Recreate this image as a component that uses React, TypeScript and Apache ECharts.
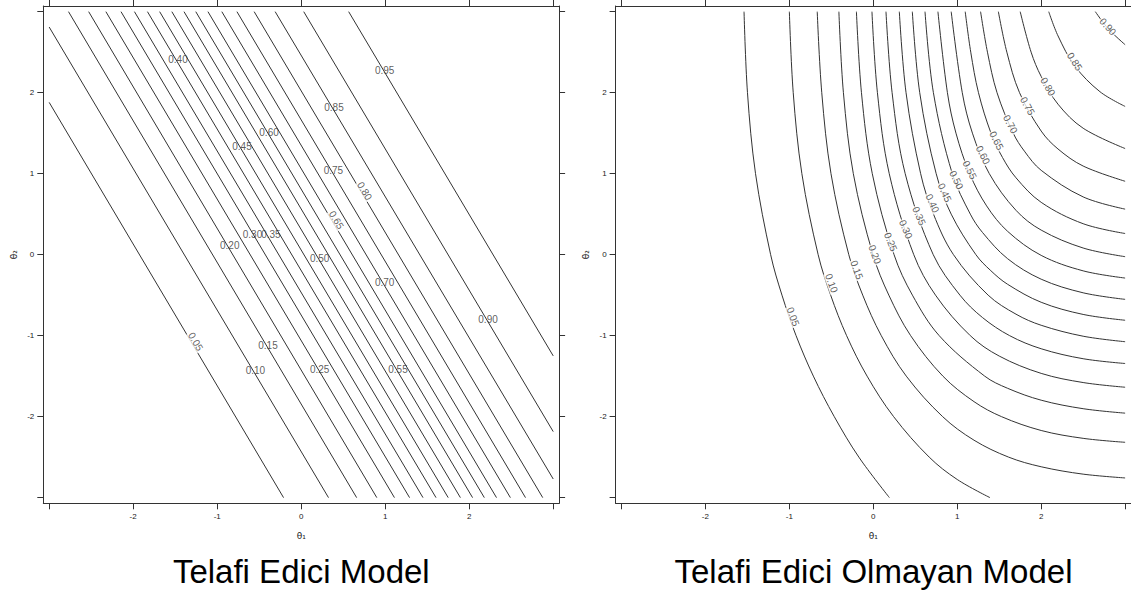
import React, { useEffect, useRef } from "react";
import * as echarts from "echarts";

// ---------- data ----------
const levels = ["0.05", "0.10", "0.15", "0.20", "0.25", "0.30", "0.35", "0.40", "0.45", "0.50", "0.55", "0.60", "0.65", "0.70", "0.75", "0.80", "0.85", "0.90", "0.95"];

// Compensatory model: straight contour lines [theta1, theta2]
const leftLines: number[][][] = [
  [[-3, 1.88], [-0.21, -3]],
  [[-3, 2.81], [0.325, -3]],
  [[-2.77, 3], [0.66, -3]],
  [[-2.53, 3], [0.9, -3]],
  [[-2.325, 3], [1.11, -3]],
  [[-2.145, 3], [1.29, -3]],
  [[-1.985, 3], [1.45, -3]],
  [[-1.83, 3], [1.605, -3]],
  [[-1.685, 3], [1.75, -3]],
  [[-1.54, 3], [1.895, -3]],
  [[-1.395, 3], [2.04, -3]],
  [[-1.255, 3], [2.18, -3]],
  [[-1.11, 3], [2.325, -3]],
  [[-0.945, 3], [2.49, -3]],
  [[-0.765, 3], [2.67, -3]],
  [[-0.56, 3], [2.875, -3]],
  [[-0.31, 3], [3, -2.77]],
  [[0.03, 3], [3, -2.185]],
  [[0.565, 3], [3, -1.25]],
];

const leftLabelAt: number[][] = [
  [-1.256, -1.074], [-0.545, -1.432], [-0.395, -1.127], [-0.851, 0.107], [0.22, -1.423],
  [-0.58, 0.252], [-0.36, 0.252], [-1.467, 2.404], [-0.705, 1.33], [0.22, -0.044],
  [1.152, -1.415], [-0.383, 1.511], [0.419, 0.428], [0.994, -0.341], [0.383, 1.042],
  [0.756, 0.786], [0.39, 1.82], [2.224, -0.798], [0.994, 2.277],
];
const leftLabelAngle = [-59, 0, 0, 0, 0, 0, 0, 0, 0, 0, 0, 0, -59, 0, 0, -59, 0, 0, 0];

// Non-compensatory model: curved contour lines [theta1, theta2]
const rightLines: number[][][] = [
  [[-1.54, 3], [-1.499, 2], [-1.403, 1], [-1.223, 0], [-1.088, -0.5], [-0.92, -1], [-0.714, -1.5], [-0.465, -2], [-0.172, -2.5], [0.192, -3]],
  [[-1.0, 3], [-0.954, 2], [-0.851, 1], [-0.657, 0], [-0.508, -0.5], [-0.318, -1], [-0.074, -1.5], [0.242, -2], [0.666, -2.5], [1.0, -2.776], [1.39, -3]],
  [[-0.668, 3], [-0.614, 2], [-0.504, 1], [-0.292, 0], [-0.126, -0.5], [0.095, -1], [0.393, -1.5], [0.826, -2], [1.2, -2.291], [1.612, -2.5], [2, -2.619], [2.5, -2.71], [3, -2.757]],
  [[-0.41, 3], [-0.356, 2], [-0.238, 1], [-0.004, 0], [0.185, -0.5], [0.445, -1], [0.829, -1.5], [1.2, -1.815], [1.527, -2], [2, -2.171], [2.5, -2.268], [3, -2.317]],
  [[-0.201, 3], [-0.141, 2], [-0.012, 1], [0.247, 0], [0.466, -0.5], [0.785, -1], [1.327, -1.5], [1.6, -1.65], [2, -1.797], [2.5, -1.902], [3, -1.957]],
  [[-0.016, 3], [0.049, 2], [0.19, 1], [0.482, 0], [0.741, -0.5], [1.155, -1], [1.5, -1.252], [2, -1.466], [2.5, -1.579], [3, -1.637]],
  [[0.151, 3], [0.224, 2], [0.38, 1], [0.714, 0], [1.032, -0.5], [1.3, -0.776], [1.624, -1], [2, -1.162], [2.5, -1.285], [3, -1.344]],
  [[0.31, 3], [0.39, 2], [0.564, 1], [0.717, 0.5], [0.955, 0], [1.368, -0.5], [1.7, -0.735], [2, -0.872], [2.5, -1.007], [3, -1.075]],
  [[0.465, 3], [0.553, 2], [0.749, 1], [0.928, 0.5], [1.222, 0], [1.4, -0.198], [1.6, -0.366], [2, -0.588], [2.5, -0.738], [3, -0.81]],
  [[0.616, 3], [0.716, 2], [0.941, 1], [1.156, 0.5], [1.3, 0.275], [1.6, -0.05], [2, -0.303], [2.5, -0.471], [3, -0.552]],
  [[0.77, 3], [0.883, 2], [0.985, 1.5], [1.148, 1], [1.35, 0.602], [1.6, 0.288], [2, -0.009], [2.5, -0.2], [3, -0.289]],
  [[0.928, 3], [1.06, 2], [1.181, 1.5], [1.382, 1], [1.7, 0.547], [2, 0.303], [2.5, 0.082], [3, -0.025]],
  [[1.095, 3], [1.161, 2.5], [1.253, 2], [1.402, 1.5], [1.539, 1.2], [1.7, 0.949], [2, 0.646], [2.5, 0.382], [3, 0.261]],
  [[1.278, 3], [1.36, 2.5], [1.474, 2], [1.667, 1.5], [1.8, 1.278], [2, 1.041], [2.5, 0.713], [3, 0.562]],
  [[1.49, 3], [1.591, 2.5], [1.742, 2], [2, 1.526], [2.2, 1.305], [2.5, 1.094], [3, 0.906]],
  [[1.75, 3], [1.88, 2.5], [2.0, 2.2], [2.2, 1.858], [2.5, 1.561], [3, 1.31]],
  [[2.09, 3], [2.201, 2.7], [2.4, 2.33], [2.7, 2.012], [3, 1.83]],
  [[2.645, 3], [2.8, 2.788], [3, 2.592]],
];

const rightLabelAt: number[][] = [
  [-0.955, -0.765], [-0.498, -0.353], [-0.196, -0.189], [0.018, 0.002], [0.208, 0.157],
  [0.387, 0.314], [0.545, 0.478], [0.705, 0.635], [0.851, 0.765], [0.99, 0.922],
  [1.149, 1.046], [1.307, 1.231], [1.467, 1.407], [1.633, 1.61], [1.836, 1.836],
  [2.081, 2.074], [2.399, 2.383], [2.795, 2.815],
];
const rightLabelAngle = [-70, -70, -70, -70, -68, -67, -66, -65, -65, -64, -64, -63, -63, -62, -61, -60, -58, -48];

const tickValues = [-3, -2, -1, 0, 1, 2, 3];
const tickLabelValues = [-2, -1, 0, 1, 2];
const panelTitles = ["Telafi Edici Model", "Telafi Edici Olmayan Model"];
const xName = "θ₁";
const yName = "θ₂";

// ---------- layout ----------
const AX_MIN = -3.07;
const AX_MAX = 3.07;
const INK = "#333";
const FONT = "Arial, 'Liberation Sans', sans-serif";
const grids = [
  { left: 43.3, top: 6, width: 515.8, height: 497.3 },
  { left: 615.6, top: 6, width: 515.8, height: 497.3 },
];

function makeAxis(gridIndex: number, position: string, labelled: boolean, name: string) {
  return {
    type: "value",
    gridIndex,
    position,
    min: AX_MIN,
    max: AX_MAX,
    axisLine: { show: true, onZero: false, lineStyle: { color: INK, width: 1 } },
    axisTick: { show: true, inside: false, length: 6, customValues: tickValues, lineStyle: { color: INK, width: 1 } },
    axisLabel: {
      show: labelled,
      customValues: tickLabelValues,
      margin: 9,
      fontSize: 8,
      color: "#222",
      fontFamily: FONT,
    },
    splitLine: { show: false },
    name: labelled ? name : "",
    nameLocation: "middle",
    nameGap: position === "bottom" ? 28 : 25,
    nameTextStyle: { fontSize: 9, color: "#222", fontFamily: "'DejaVu Sans', Arial, sans-serif" },
  };
}

function lineSeries(lines: number[][][], gi: number, smooth: boolean) {
  return lines.map((pts, i) => ({
    type: "line",
    name: `${gi}-${levels[i]}`,
    xAxisIndex: gi * 2,
    yAxisIndex: gi * 2,
    data: pts,
    showSymbol: false,
    symbol: "none",
    smooth: smooth ? 0.35 : false,
    silent: true,
    lineStyle: { color: INK, width: 1 },
    z: 2,
  }));
}

function labelSeries(at: number[][], angles: number[], gi: number) {
  return {
    type: "scatter",
    xAxisIndex: gi * 2,
    yAxisIndex: gi * 2,
    symbolSize: 1,
    silent: true,
    itemStyle: { color: "rgba(0,0,0,0)" },
    label: { show: true, color: "#333" },
    z: 5,
    data: at.map((p, i) => ({
      value: p,
      label: {
        show: true,
        position: "inside",
        formatter: levels[i],
        rotate: angles[i],
        fontSize: 10,
        color: "#333",
        fontFamily: FONT,
        backgroundColor: angles[i] !== 0 ? "#fff" : "transparent",
        padding: [0, 1],
      },
    })),
  };
}

export default function App() {
  const ref = useRef<HTMLDivElement>(null);
  useEffect(() => {
    if (!ref.current) return;
    const chart = echarts.init(ref.current, null, { renderer: "svg" });
    const option = {
      animation: false,
      backgroundColor: "#fff",
      grid: grids,
      xAxis: [
        makeAxis(0, "bottom", true, xName),
        makeAxis(0, "top", false, ""),
        makeAxis(1, "bottom", true, xName),
        makeAxis(1, "top", false, ""),
      ],
      yAxis: [
        makeAxis(0, "left", true, yName),
        makeAxis(0, "right", false, ""),
        makeAxis(1, "left", true, yName),
        makeAxis(1, "right", false, ""),
      ],
      series: [
        ...lineSeries(leftLines, 0, false),
        ...lineSeries(rightLines, 1, true),
        labelSeries(leftLabelAt, leftLabelAngle, 0),
        labelSeries(rightLabelAt, rightLabelAngle, 1),
      ],
      graphic: panelTitles.map((t, i) => ({
        type: "text",
        x: i === 0 ? 301.3 : 873.5,
        y: 571,
        style: {
          text: t,
          fontSize: 33,
          fontFamily: FONT,
          fill: "#000",
          align: "center",
          verticalAlign: "middle",
        },
      })),
    };
    chart.setOption(option as any);
    return () => chart.dispose();
  }, []);
  return (
    <div
      ref={ref}
      style={{ position: "fixed", left: 0, top: 0, width: 1131, height: 597, background: "#fff" }}
    />
  );
}
